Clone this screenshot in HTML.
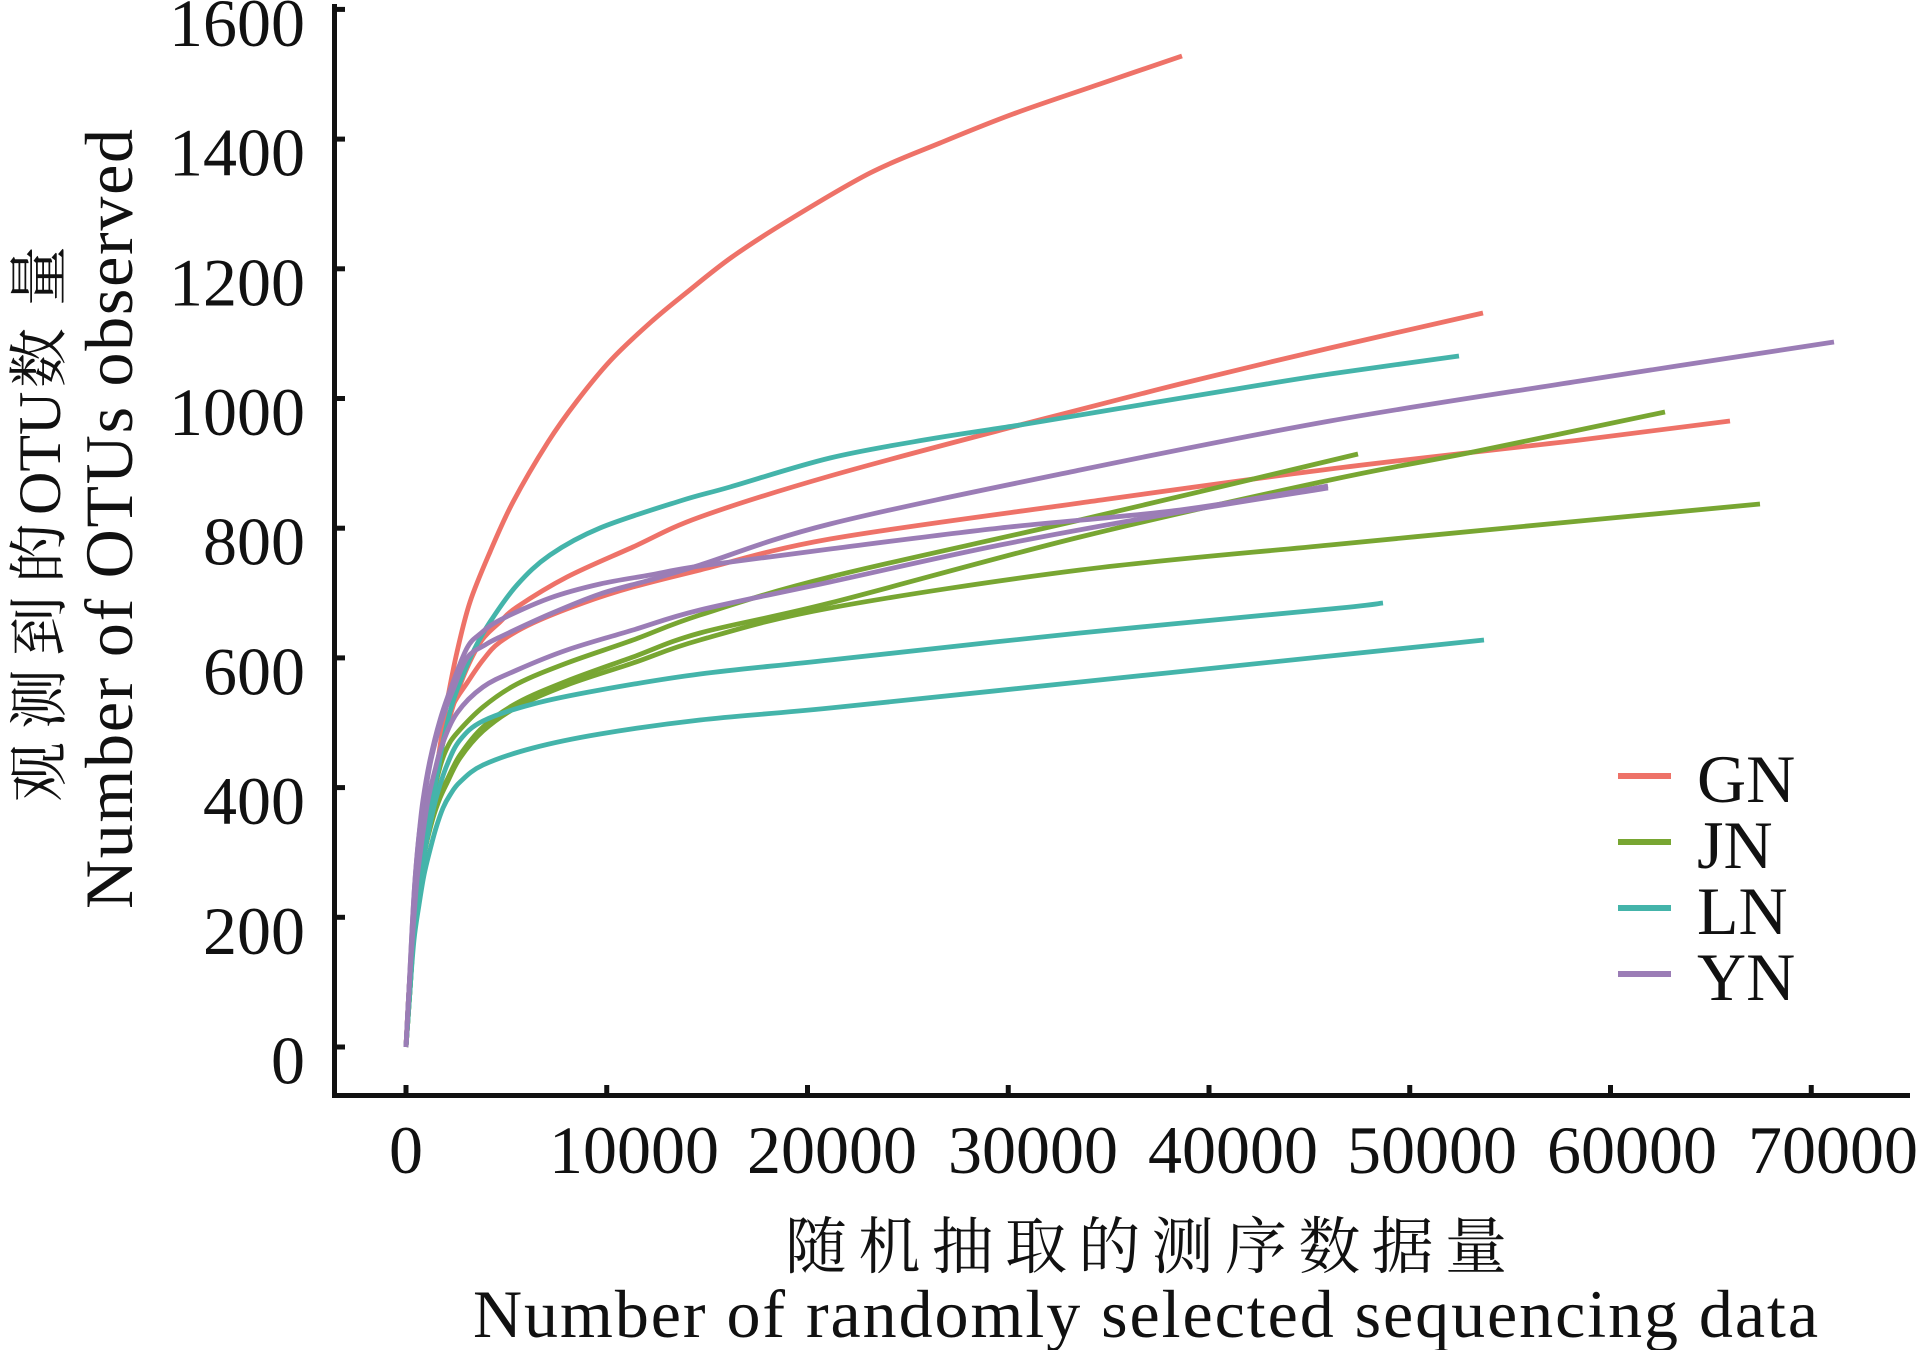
<!DOCTYPE html>
<html>
<head>
<meta charset="utf-8">
<style>
  html, body { margin: 0; padding: 0; background: #ffffff; }
  body { width: 1921px; height: 1350px; overflow: hidden; }
  svg { display: block; }
  .t { font-family: "Liberation Serif", "Times New Roman", serif; font-size: 68px; fill: #111; }
  .cn { font-family: "Liberation Serif", "Noto Serif CJK SC", "Noto Sans CJK SC", serif; fill: #111; }
  .c { fill: none; stroke-width: 4.8; stroke-linejoin: round; stroke-linecap: butt; }
  .gn { stroke: #EE7268; }
  .jn { stroke: #78A632; }
  .ln { stroke: #44B4AA; }
  .yn { stroke: #9B7DB6; }
</style>
</head>
<body>
<svg id="chart" width="1921" height="1350" viewBox="0 0 1921 1350" xmlns="http://www.w3.org/2000/svg">
  <rect x="0" y="0" width="1921" height="1350" fill="#ffffff"/>

  <!-- GN curves -->
  <polyline class="c gn" points="406,1047 409,990 413,935 418,885 424,840 430,805 434,785 437,767 442,733 447,702 457,652 470,602 490,552 513,502 548,442 577,401 611,360 651,322 686,293 732,257 789,220 870,173 940,143 1013,114 1100,84 1182,56"/>
  <polyline class="c gn" points="406,1047 409,990 413,930 418,880 424,840 430,805 437,770 445,735 455,700 467,668 482,640 500,622 517,607 567,577 633,547 700,517 830,476 1020,425 1180,384 1330,348 1483,313"/>
  <polyline class="c gn" points="406,1047 409,990 413,930 418,880 424,840 431,800 437,765 443,735 453,705 467,683 483,660 500,642 533,623 583,603 633,587 700,570 830,539 1080,503 1330,469 1580,440 1730,421"/>

  <!-- JN curves -->
  <polyline class="c jn" points="406,1047 410,990 414,930 419,880 425,840 431,805 440,767 447,748 457,733 483,707 517,684 567,663 633,640 700,615 830,577 1080,520 1358,454"/>
  <polyline class="c jn" points="406,1047 410,990 414,930 419,885 425,850 433,815 440,795 447,780 460,755 483,727 517,703 567,681 633,657 700,633 830,603 1080,537 1330,480 1473,452 1665,412"/>
  <polyline class="c jn" points="406,1047 410,990 414,930 419,885 425,850 433,818 440,798 447,783 460,758 483,731 517,707 567,685 633,663 700,640 830,608 1080,570 1330,545 1580,521 1760,504"/>

  <!-- LN curves -->
  <polyline class="c ln" points="406,1047 409,990 413,930 418,880 424,840 429,812 433,795 438,770 443,742 450,712 457,690 473,652 490,622 517,585 550,555 600,528 680,501 730,487 830,458 930,439 1020,425 1080,415 1230,390 1330,374 1459,356"/>
  <polyline class="c ln" points="406,1047 410,990 414,930 419,885 425,850 431,820 437,795 447,765 460,740 483,721 533,704 600,690 700,674 830,660 1080,633 1330,609 1383,603"/>
  <polyline class="c ln" points="406,1047 410,990 414,940 419,905 424,875 430,850 436,828 443,808 450,795 460,782 483,765 533,748 600,734 700,720 830,708 1080,682 1330,656 1484,640"/>

  <!-- YN curves -->
  <polyline class="c yn" points="406,1047 409,990 412,930 415,880 419,835 424,800 431,760 441,722 453,690 467,658 485,645 500,637 550,614 600,594 650,580 700,565 830,524 1080,470 1330,421 1580,381 1834,342"/>
  <polyline class="c yn" points="406,1047 409,990 412,930 415,880 419,835 423,800 430,760 440,720 452,685 467,648 480,634 500,620 550,598 600,584 650,575 700,566 830,549 1000,528 1180,510 1328,486"/>
  <polyline class="c yn" points="406,1047 409,990 413,930 417,880 422,840 428,800 435,770 442,745 457,713 483,687 517,670 567,650 633,630 700,610 830,582 1000,545 1180,512 1328,488"/>

  <!-- Axes -->
  <line x1="334.5" y1="4" x2="334.5" y2="1098" stroke="#111" stroke-width="5"/>
  <line x1="332" y1="1095.5" x2="1910" y2="1095.5" stroke="#111" stroke-width="5"/>

  <!-- Y ticks -->
  <g stroke="#111" stroke-width="5">
    <line x1="334" y1="1047" x2="345" y2="1047"/>
    <line x1="334" y1="917.3" x2="345" y2="917.3"/>
    <line x1="334" y1="787.6" x2="345" y2="787.6"/>
    <line x1="334" y1="657.9" x2="345" y2="657.9"/>
    <line x1="334" y1="528.2" x2="345" y2="528.2"/>
    <line x1="334" y1="398.5" x2="345" y2="398.5"/>
    <line x1="334" y1="268.8" x2="345" y2="268.8"/>
    <line x1="334" y1="139.1" x2="345" y2="139.1"/>
    <line x1="334" y1="9.4" x2="345" y2="9.4"/>
  </g>

  <!-- X ticks -->
  <g stroke="#111" stroke-width="5">
    <line x1="406" y1="1085" x2="406" y2="1095"/>
    <line x1="606.75" y1="1085" x2="606.75" y2="1095"/>
    <line x1="807.5" y1="1085" x2="807.5" y2="1095"/>
    <line x1="1008.25" y1="1085" x2="1008.25" y2="1095"/>
    <line x1="1209" y1="1085" x2="1209" y2="1095"/>
    <line x1="1409.75" y1="1085" x2="1409.75" y2="1095"/>
    <line x1="1610.5" y1="1085" x2="1610.5" y2="1095"/>
    <line x1="1811.25" y1="1085" x2="1811.25" y2="1095"/>
  </g>

  <!-- Y tick labels -->
  <g class="t" text-anchor="end">
    <text x="305" y="1083.5">0</text>
    <text x="305" y="953.8">200</text>
    <text x="305" y="824.1">400</text>
    <text x="305" y="694.4">600</text>
    <text x="305" y="564.7">800</text>
    <text x="305" y="435">1000</text>
    <text x="305" y="305.3">1200</text>
    <text x="305" y="175.6">1400</text>
    <text x="305" y="45.9">1600</text>
  </g>

  <!-- X tick labels -->
  <g class="t" text-anchor="middle">
    <text x="406" y="1173">0</text>
    <text x="634" y="1173">10000</text>
    <text x="832" y="1173">20000</text>
    <text x="1033" y="1173">30000</text>
    <text x="1233" y="1173">40000</text>
    <text x="1432" y="1173">50000</text>
    <text x="1632" y="1173">60000</text>
    <text x="1833" y="1173">70000</text>
  </g>

  <!-- Axis titles -->
  <text class="cn" x="785" y="1268" font-size="62" textLength="722" lengthAdjust="spacing">随机抽取的测序数据量</text>
  <text class="t" x="473" y="1337" textLength="1345" lengthAdjust="spacing">Number of randomly selected sequencing data</text>

  <g transform="translate(60,802) rotate(-90)">
    <text class="cn" font-size="60" y="0"><tspan x="0">观</tspan><tspan x="73">测</tspan><tspan x="146">到</tspan><tspan x="219">的</tspan><tspan x="287">OTU</tspan><tspan x="414">数</tspan><tspan x="496">量</tspan></text>
  </g>
  <text class="t" transform="translate(132,909) rotate(-90)" x="0" y="0" textLength="780" lengthAdjust="spacing">Number of OTUs observed</text>

  <!-- Legend -->
  <g stroke-width="6">
    <line x1="1618" y1="776" x2="1671" y2="776" stroke="#EE7268"/>
    <line x1="1618" y1="842" x2="1671" y2="842" stroke="#78A632"/>
    <line x1="1618" y1="908" x2="1671" y2="908" stroke="#44B4AA"/>
    <line x1="1618" y1="974" x2="1671" y2="974" stroke="#9B7DB6"/>
  </g>
  <g class="t">
    <text x="1697" y="802">GN</text>
    <text x="1697" y="868">JN</text>
    <text x="1697" y="934">LN</text>
    <text x="1697" y="1000">YN</text>
  </g>
</svg>
<script>
(function(){
  var NS = "http://www.w3.org/2000/svg";
  var lines = document.querySelectorAll('polyline.c');
  for (var k = 0; k < lines.length; k++) {
    var pl = lines[k];
    var raw = pl.getAttribute('points').trim().split(/\s+/);
    var pts = raw.map(function(p){ return p.split(',').map(Number); });
    var d = 'M' + pts[0][0] + ',' + pts[0][1];
    for (var i = 0; i < pts.length - 1; i++) {
      var p0 = pts[i-1] || pts[i], p1 = pts[i], p2 = pts[i+1], p3 = pts[i+2] || pts[i+1];
      var c1x = p1[0] + (p2[0]-p0[0])/6, c1y = p1[1] + (p2[1]-p0[1])/6;
      var c2x = p2[0] - (p3[0]-p1[0])/6, c2y = p2[1] - (p3[1]-p1[1])/6;
      d += ' C' + c1x.toFixed(2) + ',' + c1y.toFixed(2) + ' ' + c2x.toFixed(2) + ',' + c2y.toFixed(2) + ' ' + p2[0] + ',' + p2[1];
    }
    var path = document.createElementNS(NS, 'path');
    path.setAttribute('class', pl.getAttribute('class'));
    path.setAttribute('d', d);
    pl.parentNode.insertBefore(path, pl);
    pl.parentNode.removeChild(pl);
  }
})();
</script>
</body>
</html>
